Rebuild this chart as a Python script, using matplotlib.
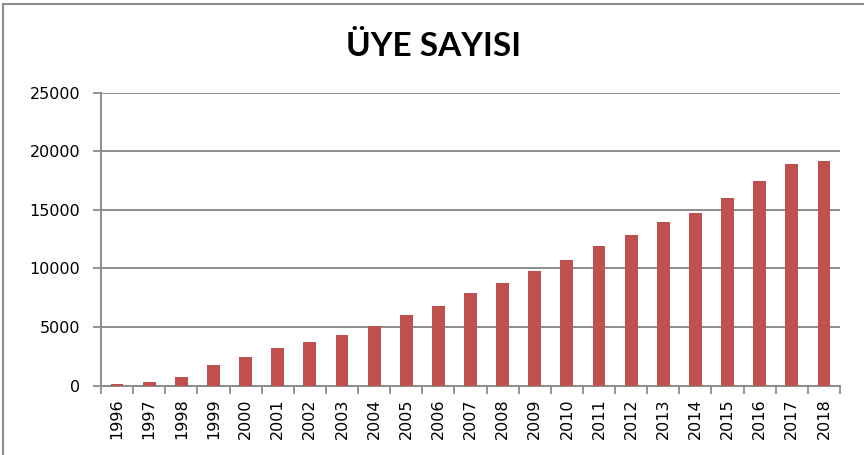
import matplotlib
matplotlib.use("Agg")
import matplotlib.pyplot as plt
from matplotlib.lines import Line2D
import numpy as np

years = [str(y) for y in range(1996, 2019)]
members = [150, 300, 700, 1750, 2420, 3240, 3750, 4300, 5090, 6030, 6820,
           7910, 8740, 9780, 10720, 11940, 12850, 13940, 14730, 15980,
           17430, 18890, 19170]
yticks = [0, 5000, 10000, 15000, 20000, 25000]

bar_color = "#C0504D"
grid_color = "#8C8C8C"

fig = plt.figure(figsize=(8.64, 4.55), dpi=100)
ax = fig.add_axes([101/864, 1 - 385.7/455, (840 - 101)/864, (385.7 - 92.7)/455])

x = np.arange(len(years))
ax.bar(x, members, width=0.4, color=bar_color, zorder=3)

ax.set_xlim(-0.5, len(years) - 0.5)
ax.set_ylim(0, 25000)
ax.set_yticks(yticks)
ax.set_yticklabels([str(v) for v in yticks], fontsize=11.5, family="DejaVu Sans")
ax.set_xticks(x)
ax.set_xticklabels(years, rotation=90, fontsize=11.5, family="DejaVu Sans")
ax.set_xticks(np.arange(-0.5, len(years)), minor=True)
ax.tick_params(axis="x", which="major", length=0, pad=9)
ax.tick_params(axis="x", which="minor", length=6, width=1.3, color=grid_color, direction="out")
ax.tick_params(axis="y", length=6, width=1.3, color=grid_color, pad=9)

ax.yaxis.grid(True, color=grid_color, linewidth=1.4, zorder=0)
ax.set_axisbelow(True)
for s in ["top", "right"]:
    ax.spines[s].set_visible(False)
for s in ["left", "bottom"]:
    ax.spines[s].set_color(grid_color)
    ax.spines[s].set_linewidth(1.4)

fig.text(434/864, 1 - 46/455, "ÜYE SAYISI", ha="center", va="center",
         fontsize=24, fontweight="bold", family=["Lato", "Liberation Sans", "DejaVu Sans"])

# outer chart border (left and top visible)
fig.add_artist(Line2D([3/864, 3/864], [0, 1 - 4/455], transform=fig.transFigure,
                      color="#8C8C8C", linewidth=1.5))
fig.add_artist(Line2D([3/864, 1], [1 - 4/455, 1 - 4/455], transform=fig.transFigure,
                      color="#8C8C8C", linewidth=1.5))

fig.savefig("out.png", dpi=100)
